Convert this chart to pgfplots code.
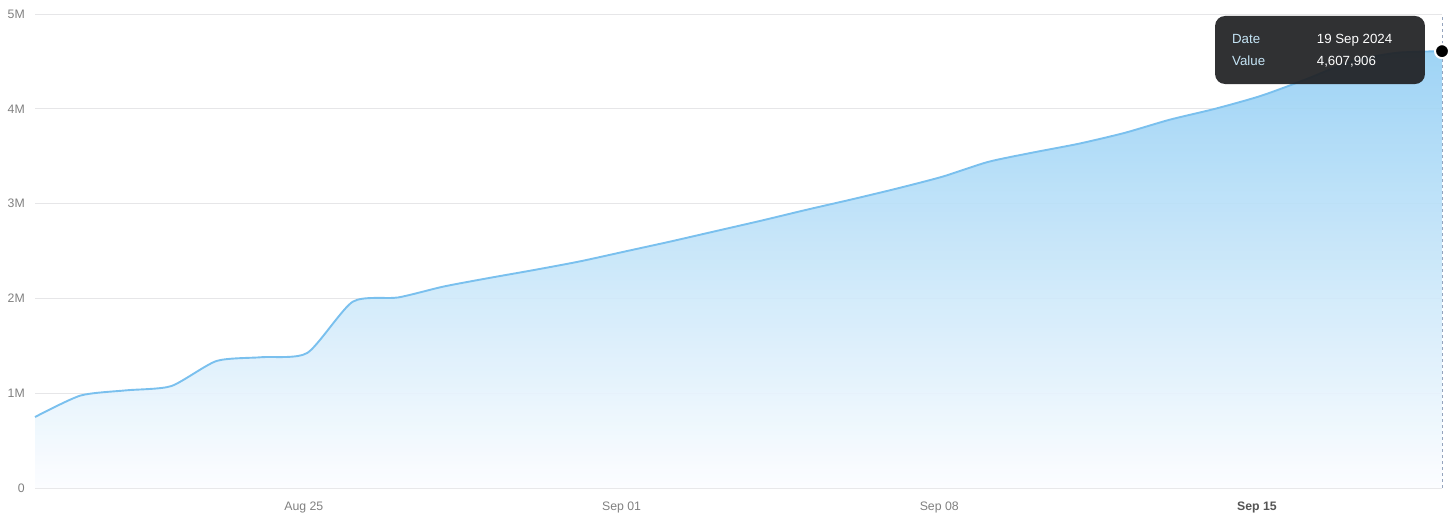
\documentclass[border=0pt]{standalone}
\usepackage{pgfplots}
\pgfplotsset{compat=1.18}
\usepackage{pgfplotstable}
\usepackage{fontspec}
\setmainfont{Liberation Sans}

\definecolor{linecol}{RGB}{122,192,238}
\definecolor{filltop}{RGB}{150,208,244}
\definecolor{fillmid}{RGB}{214,235,250}
\definecolor{fillbot}{RGB}{252,253,255}
\definecolor{gridcol}{RGB}{230,230,232}
\definecolor{tickcol}{RGB}{128,128,128}
\definecolor{boldcol}{RGB}{85,85,85}
\definecolor{tipbg}{RGB}{32,33,36}
\definecolor{tiplab}{RGB}{196,228,245}
\definecolor{dashcol}{RGB}{150,165,190}

% day 0 = Aug 19, day 31 = Sep 19
\pgfplotstableread{
day value
0  749000
1  975000
2  1030000
3  1075000
4  1340000
5  1380000
6  1425000
7  1965000
8  2010000
9  2125000
10 2215000
11 2300000
12 2390000
13 2495000
14 2600000
15 2710000
16 2820000
17 2935000
18 3045000
19 3160000
20 3285000
21 3440000
22 3540000
23 3632000
24 3745000
25 3885000
26 4000000
27 4135000
28 4310000
29 4500000
30 4590000
31 4607906
}\views

\begin{document}
\begin{tikzpicture}
\begin{axis}[
  scale only axis,
  width=1407pt, height=474pt,
  xmin=0, xmax=31,
  ymin=0, ymax=5000000,
  clip=false,
  axis line style={draw=none},
  tick style={draw=none},
  major tick length=0pt,
  ymajorgrids,
  grid style={gridcol, line width=0.9pt},
  scaled y ticks=false,
  ytick={0,1000000,2000000,3000000,4000000,5000000},
  yticklabels={0,1M,2M,3M,4M,5M},
  xtick={6,13,20,27},
  xticklabels={Aug 25,Sep 01,Sep 08,{\color{boldcol}\bfseries Sep 15}},
  yticklabel style={anchor=east, inner sep=0pt, xshift=-10pt,
    text=tickcol, font=\fontsize{12.3}{14}\selectfont},
  xticklabel style={anchor=base, inner sep=0pt, yshift=-22pt, xshift=-3.5pt,
    text=tickcol, font=\fontsize{12.3}{14}\selectfont},
]
% area under the curve
\addplot[draw=none, smooth, tension=0.4, fill opacity=0.92,
  top color=filltop, middle color=fillmid, bottom color=fillbot]
  table[x=day, y=value] {\views} \closedcycle;
% the curve
\addplot[linecol, line width=1.9pt, smooth, tension=0.4]
  table[x=day, y=value] {\views};
% hover guide
\addplot[dashcol, line width=0.8pt, dash pattern=on 3pt off 3pt]
  coordinates {(31,0) (31,5000000)};
\addplot[only marks, mark=*, mark size=7pt,
  mark options={fill=black, draw=white, line width=2pt}]
  coordinates {(31,4607906)};

% tooltip
\fill[tipbg, fill opacity=0.93, rounded corners=10pt]
  (rel axis cs:0.8387,0.8523) rectangle (rel axis cs:0.9879,0.9958);
\begin{scope}[every node/.style={anchor=base west, inner sep=0pt,
    font=\fontsize{13.3}{15}\selectfont}]
\node[text=tiplab] at (rel axis cs:0.8507,0.9388) {Date};
\node[text=tiplab] at (rel axis cs:0.8507,0.8909) {Value};
\node[text=white] at (rel axis cs:0.9109,0.9388) {19 Sep 2024};
\node[text=white] at (rel axis cs:0.9109,0.8909) {4,607,906};
\end{scope}
\end{axis}
\pgfresetboundingbox
\path ([shift={(-35pt,-37pt)}]current axis.south west)
  rectangle ([shift={(14pt,14pt)}]current axis.north east);
\end{tikzpicture}
\end{document}
